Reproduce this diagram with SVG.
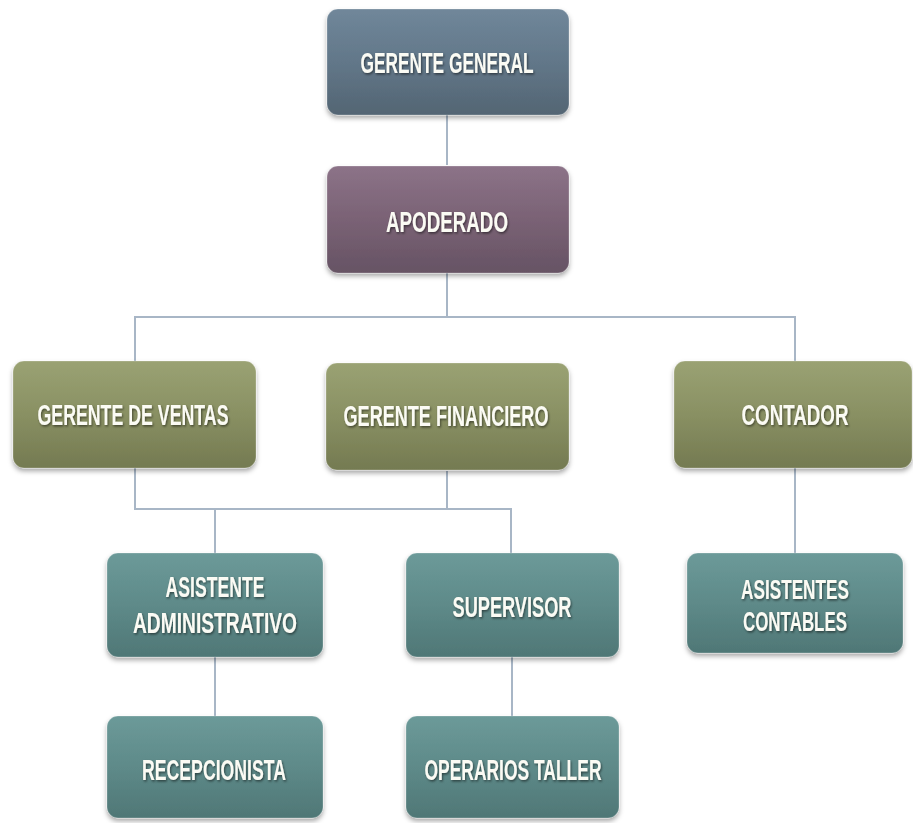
<svg xmlns="http://www.w3.org/2000/svg" width="913" height="823" viewBox="0 0 913 823">
<defs>
<linearGradient id="gSlate" x1="0" y1="0" x2="0" y2="1"><stop offset="0" stop-color="#70879a"/><stop offset="0.5" stop-color="#627789"/><stop offset="1" stop-color="#536573"/></linearGradient>
<linearGradient id="gPurple" x1="0" y1="0" x2="0" y2="1"><stop offset="0" stop-color="#8c7388"/><stop offset="0.5" stop-color="#7a6275"/><stop offset="1" stop-color="#665364"/></linearGradient>
<linearGradient id="gOlive" x1="0" y1="0" x2="0" y2="1"><stop offset="0" stop-color="#9aa273"/><stop offset="0.5" stop-color="#899063"/><stop offset="1" stop-color="#747a51"/></linearGradient>
<linearGradient id="gTeal" x1="0" y1="0" x2="0" y2="1"><stop offset="0" stop-color="#6c9a99"/><stop offset="0.5" stop-color="#5e8a89"/><stop offset="1" stop-color="#4f7776"/></linearGradient>
<filter id="sh" x="-10%" y="-10%" width="120%" height="130%"><feDropShadow dx="0" dy="3" stdDeviation="2.5" flood-color="#000" flood-opacity="0.35"/></filter>
<filter id="tsh" x="-25%" y="-40%" width="150%" height="180%"><feDropShadow dx="1" dy="1.5" stdDeviation="1" flood-color="#000" flood-opacity="0.5"/></filter>
</defs>
<style>
.box{stroke:#ffffff;stroke-opacity:0.25;stroke-width:1;filter:url(#sh)}
.lbl{font-family:"Liberation Sans",Arial,sans-serif;font-weight:bold;font-size:29px;fill:#fbfbf4;text-anchor:middle;filter:url(#tsh)}
.sm{font-size:27px}
.con{fill:none;stroke:#a8b6c6;stroke-width:2}
</style>
<rect width="913" height="823" fill="#ffffff"/>
<g id="connectors">
<path class="con" d="M447 115V165"/>
<path class="con" d="M447 273V317M135 361V317H795V361"/>
<path class="con" d="M135 468V509H511V553M447 471V509M215 509V553"/>
<path class="con" d="M795 468V553"/>
<path class="con" d="M215 657V716"/>
<path class="con" d="M512 657V716"/>
</g>
<g id="gerente-general"><rect class="box" x="327" y="9" width="242" height="106" rx="11" fill="url(#gSlate)"/><text class="lbl" x="447" y="73" textLength="173" lengthAdjust="spacingAndGlyphs">GERENTE GENERAL</text></g>
<g id="apoderado"><rect class="box" x="327" y="166" width="242" height="107" rx="11" fill="url(#gPurple)"/><text class="lbl" x="447" y="232" textLength="122" lengthAdjust="spacingAndGlyphs">APODERADO</text></g>
<g id="gerente-ventas"><rect class="box" x="13" y="361" width="243" height="107" rx="11" fill="url(#gOlive)"/><text class="lbl" x="133" y="425" textLength="191" lengthAdjust="spacingAndGlyphs">GERENTE DE VENTAS</text></g>
<g id="gerente-financiero"><rect class="box" x="326" y="363" width="243" height="107" rx="11" fill="url(#gOlive)"/><text class="lbl" x="446" y="426" textLength="205" lengthAdjust="spacingAndGlyphs">GERENTE FINANCIERO</text></g>
<g id="contador"><rect class="box" x="674" y="361" width="238" height="107" rx="11" fill="url(#gOlive)"/><text class="lbl" x="795" y="425" textLength="107" lengthAdjust="spacingAndGlyphs">CONTADOR</text></g>
<g id="asistente-administrativo"><rect class="box" x="107" y="553" width="216" height="104" rx="11" fill="url(#gTeal)"/><text class="lbl" x="215" y="597" textLength="99" lengthAdjust="spacingAndGlyphs">ASISTENTE</text><text class="lbl" x="215" y="633" textLength="164" lengthAdjust="spacingAndGlyphs">ADMINISTRATIVO</text></g>
<g id="supervisor"><rect class="box" x="406" y="553" width="213" height="104" rx="11" fill="url(#gTeal)"/><text class="lbl" x="512" y="617" textLength="119" lengthAdjust="spacingAndGlyphs">SUPERVISOR</text></g>
<g id="asistentes-contables"><rect class="box" x="687" y="553" width="216" height="100" rx="11" fill="url(#gTeal)"/><text class="lbl sm" x="795" y="599" textLength="108" lengthAdjust="spacingAndGlyphs">ASISTENTES</text><text class="lbl sm" x="795" y="631" textLength="104" lengthAdjust="spacingAndGlyphs">CONTABLES</text></g>
<g id="recepcionista"><rect class="box" x="107" y="716" width="216" height="102" rx="11" fill="url(#gTeal)"/><text class="lbl" x="214" y="780" textLength="144" lengthAdjust="spacingAndGlyphs">RECEPCIONISTA</text></g>
<g id="operarios-taller"><rect class="box" x="406" y="716" width="213" height="102" rx="11" fill="url(#gTeal)"/><text class="lbl" x="513" y="780" textLength="177" lengthAdjust="spacingAndGlyphs">OPERARIOS TALLER</text></g>
</svg>
